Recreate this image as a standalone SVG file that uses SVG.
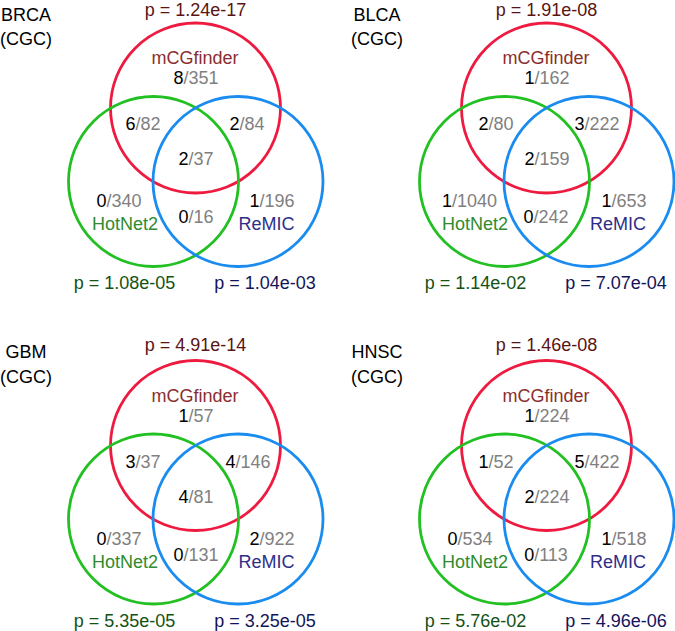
<svg xmlns="http://www.w3.org/2000/svg" width="675" height="631" viewBox="0 0 675 631">
<style>
text{font-family:"Liberation Sans",Arial,sans-serif;font-size:18px;text-anchor:middle}
.c{fill:none;stroke-width:2.8}
.r{stroke:#ee1a3f}.g{stroke:#22c022}.b{stroke:#1a8cf0}
.pt{fill:#5a1414}.pl{fill:#145214}.pr{fill:#14145a}
.nm{fill:#8b2e2e}.nh{fill:#2e8b2e}.nr{fill:#2e2e88}
.k{fill:#000}.d{fill:#808080}
.lab{fill:#000}
</style>
<rect width="675" height="631" fill="#fff"/>

<g id="panel-brca">
  <g id="brca-mcgfinder"><circle class="c r" cx="195.5" cy="108" r="85"/></g>
  <g id="brca-hotnet2"><circle class="c g" cx="153.5" cy="181.5" r="85"/></g>
  <g id="brca-remic"><circle class="c b" cx="238" cy="181.5" r="85"/></g>
  <text class="lab" x="26" y="20.5">BRCA</text>
  <text class="lab" x="26" y="45">(CGC)</text>
  <text class="pt" x="195.5" y="16">p = 1.24e-17</text>
  <text class="nm" x="195" y="64">mCGfinder</text>
  <text x="196" y="84"><tspan class="k">8</tspan><tspan class="d">/351</tspan></text>
  <text x="143" y="130"><tspan class="k">6</tspan><tspan class="d">/82</tspan></text>
  <text x="247" y="130"><tspan class="k">2</tspan><tspan class="d">/84</tspan></text>
  <text x="196" y="165"><tspan class="k">2</tspan><tspan class="d">/37</tspan></text>
  <text x="119" y="207"><tspan class="k">0</tspan><tspan class="d">/340</tspan></text>
  <text x="272" y="207"><tspan class="k">1</tspan><tspan class="d">/196</tspan></text>
  <text x="196" y="223"><tspan class="k">0</tspan><tspan class="d">/16</tspan></text>
  <text class="nh" x="125" y="230">HotNet2</text>
  <text class="nr" x="266.5" y="230">ReMIC</text>
  <text class="pl" x="124.5" y="289">p = 1.08e-05</text>
  <text class="pr" x="265" y="289">p = 1.04e-03</text>
</g>

<g id="panel-blca" transform="translate(351,0)">
  <g id="blca-mcgfinder"><circle class="c r" cx="195.5" cy="108" r="85"/></g>
  <g id="blca-hotnet2"><circle class="c g" cx="153.5" cy="181.5" r="85"/></g>
  <g id="blca-remic"><circle class="c b" cx="238" cy="181.5" r="85"/></g>
  <text class="lab" x="26" y="20.5">BLCA</text>
  <text class="lab" x="26" y="45">(CGC)</text>
  <text class="pt" x="195.5" y="16">p = 1.91e-08</text>
  <text class="nm" x="195" y="64">mCGfinder</text>
  <text x="196" y="84"><tspan class="k">1</tspan><tspan class="d">/162</tspan></text>
  <text x="145" y="130"><tspan class="k">2</tspan><tspan class="d">/80</tspan></text>
  <text x="246" y="130"><tspan class="k">3</tspan><tspan class="d">/222</tspan></text>
  <text x="196" y="165"><tspan class="k">2</tspan><tspan class="d">/159</tspan></text>
  <text x="118.5" y="207"><tspan class="k">1</tspan><tspan class="d">/1040</tspan></text>
  <text x="273" y="207"><tspan class="k">1</tspan><tspan class="d">/653</tspan></text>
  <text x="195" y="223"><tspan class="k">0</tspan><tspan class="d">/242</tspan></text>
  <text class="nh" x="124" y="230">HotNet2</text>
  <text class="nr" x="267" y="230">ReMIC</text>
  <text class="pl" x="124.5" y="289">p = 1.14e-02</text>
  <text class="pr" x="265" y="289">p = 7.07e-04</text>
</g>

<g id="panel-gbm" transform="translate(0,337.5)">
  <g id="gbm-mcgfinder"><circle class="c r" cx="195.5" cy="108" r="85"/></g>
  <g id="gbm-hotnet2"><circle class="c g" cx="153.5" cy="181.5" r="85"/></g>
  <g id="gbm-remic"><circle class="c b" cx="238" cy="181.5" r="85"/></g>
  <text class="lab" x="26" y="20.5">GBM</text>
  <text class="lab" x="26" y="45">(CGC)</text>
  <text class="pt" x="195.5" y="13.5">p = 4.91e-14</text>
  <text class="nm" x="195" y="64">mCGfinder</text>
  <text x="196" y="84"><tspan class="k">1</tspan><tspan class="d">/57</tspan></text>
  <text x="143" y="130"><tspan class="k">3</tspan><tspan class="d">/37</tspan></text>
  <text x="248" y="130"><tspan class="k">4</tspan><tspan class="d">/146</tspan></text>
  <text x="196" y="165"><tspan class="k">4</tspan><tspan class="d">/81</tspan></text>
  <text x="119" y="207"><tspan class="k">0</tspan><tspan class="d">/337</tspan></text>
  <text x="272" y="207"><tspan class="k">2</tspan><tspan class="d">/922</tspan></text>
  <text x="196" y="223"><tspan class="k">0</tspan><tspan class="d">/131</tspan></text>
  <text class="nh" x="125" y="230">HotNet2</text>
  <text class="nr" x="266.5" y="230">ReMIC</text>
  <text class="pl" x="124.5" y="289">p = 5.35e-05</text>
  <text class="pr" x="265" y="289">p = 3.25e-05</text>
</g>

<g id="panel-hnsc" transform="translate(351,337.5)">
  <g id="hnsc-mcgfinder"><circle class="c r" cx="195.5" cy="108" r="85"/></g>
  <g id="hnsc-hotnet2"><circle class="c g" cx="153.5" cy="181.5" r="85"/></g>
  <g id="hnsc-remic"><circle class="c b" cx="238" cy="181.5" r="85"/></g>
  <text class="lab" x="26" y="20.5">HNSC</text>
  <text class="lab" x="26" y="45">(CGC)</text>
  <text class="pt" x="195.5" y="13.5">p = 1.46e-08</text>
  <text class="nm" x="195" y="64">mCGfinder</text>
  <text x="196" y="84"><tspan class="k">1</tspan><tspan class="d">/224</tspan></text>
  <text x="145" y="130"><tspan class="k">1</tspan><tspan class="d">/52</tspan></text>
  <text x="246" y="130"><tspan class="k">5</tspan><tspan class="d">/422</tspan></text>
  <text x="196" y="165"><tspan class="k">2</tspan><tspan class="d">/224</tspan></text>
  <text x="119" y="207"><tspan class="k">0</tspan><tspan class="d">/534</tspan></text>
  <text x="273" y="207"><tspan class="k">1</tspan><tspan class="d">/518</tspan></text>
  <text x="195" y="223"><tspan class="k">0</tspan><tspan class="d">/113</tspan></text>
  <text class="nh" x="124" y="230">HotNet2</text>
  <text class="nr" x="267" y="230">ReMIC</text>
  <text class="pl" x="124.5" y="289">p = 5.76e-02</text>
  <text class="pr" x="265" y="289">p = 4.96e-06</text>
</g>
</svg>
